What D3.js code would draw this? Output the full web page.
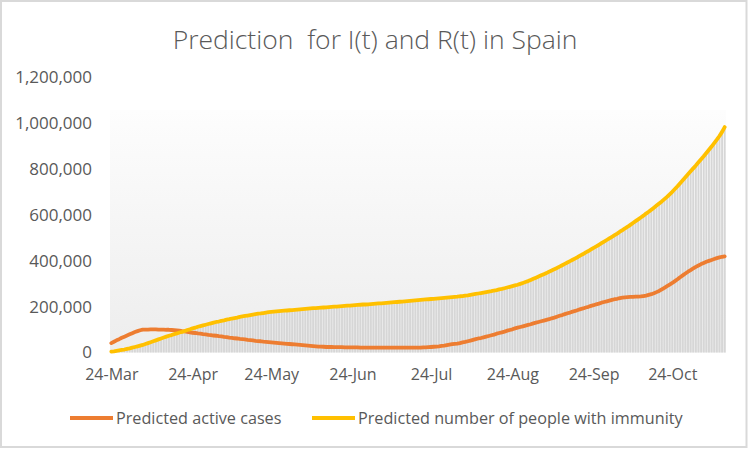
<!DOCTYPE html>
<html>
<head>
<meta charset="utf-8">
<script src="https://cdn.jsdelivr.net/npm/d3@7"></script>
<style>
  html, body { margin: 0; padding: 0; background: #ffffff; }
  svg { display: block; }
</style>
</head>
<body>
<svg id="chart" width="750" height="449"></svg>
<script>
// ---------------- DATA ----------------
const chartTitle = "Prediction  for I(t) and R(t) in Spain";
const seriesNames = ["Predicted active cases", "Predicted number of people with immunity"];
const firstDay = "2020-03-24";
const lastDay = "2020-11-13";
const xTickDates = ["2020-03-24","2020-04-24","2020-05-24","2020-06-24","2020-07-24","2020-08-24","2020-09-24","2020-10-24"];
const xTickLabels = ["24-Mar","24-Apr","24-May","24-Jun","24-Jul","24-Aug","24-Sep","24-Oct"];
const yTickValues = [0, 200, 400, 600, 800, 1000, 1200]; // thousands
const yTickLabels = ["0","200,000","400,000","600,000","800,000","1,000,000","1,200,000"];

// Predicted active cases I(t), thousands, one value per day
const activeK = [
  41,47,53,58,64,69,74,79,84,89,93,97,100,
  100,100,101,101,101,100,100,100,99,99,98,97,
  96,95,93,92,90,88,86,
  85,83,82,80,79,77,76,74,73,71,70,68,67,65,64,62,61,59,58,57,55,54,53,51,50,49,47,46,45,44,
  43,42,41,40,39,38,37,36,35,34,33,32,31,30,29,28,27,26,26,25,24,
  24,24,23,23,23,23,22,22,22,22,
  22,22,21,21,21,21,21,21,21,21,21,21,21,21,21,21,21,21,21,21,21,21,21,21,21,21,
  22,22,23,24,25,
  26,27,29,30,32,34,36,38,39,41,
  44,46,49,52,55,58,61,63,66,69,72,
  75,78,82,85,88,91,95,98,101,105,108,
  111,114,117,120,123,127,130,133,136,139,142,145,
  149,152,156,160,163,167,171,174,178,181,185,
  189,192,196,199,203,206,210,213,217,220,
  223,226,229,232,234,237,239,
  240,241,242,242,243,243,244,
  246,248,251,254,258,263,268,275,282,289,296,303,
  311,319,328,336,344,352,359,
  366,373,379,385,390,395,
  399,403,407,411,414,417,419
];

// Predicted number of people with immunity R(t), thousands, one value per day
const immuneK = [
  4,5,7,9,11,13,16,18,21,24,27,30,33,
  37,41,45,49,53,57,61,65,69,
  73,76,80,83,87,90,94,
  98,101,105,108,112,115,118,121,124,127,130,133,135,138,140,143,145,148,150,152,155,
  157,159,161,163,165,167,169,170,172,174,176,
  177,178,179,180,181,182,183,184,185,186,187,188,
  189,190,191,192,193,193,194,195,196,197,
  198,199,200,200,201,202,203,204,204,205,206,207,
  208,209,209,210,211,212,213,214,214,215,216,217,218,219,220,221,
  222,223,224,225,226,227,228,229,230,231,232,233,234,235,236,237,238,239,240,
  241,242,243,245,246,248,249,251,253,255,257,259,261,263,265,
  267,270,272,275,277,280,283,286,289,292,295,299,303,307,311,316,
  321,326,331,336,341,346,352,357,363,368,374,380,386,392,398,404,410,416,423,429,436,442,449,456,462,469,
  476,483,490,497,504,511,518,526,533,541,548,556,564,
  572,580,588,596,605,613,622,631,640,649,658,668,678,
  689,700,712,724,737,750,763,
  776,789,802,815,829,842,855,869,
  883,897,912,927,943,961,982
];

// ---------------- CHART ----------------
const colors = { active: "#ED7D31", immune: "#FFC000", text: "#595959", cols: "#d6d6d6", border: "#d9d9d9" };
const font = "'Open Sans', 'Noto Sans', 'DejaVu Sans', sans-serif";

const parse = d3.utcParse("%Y-%m-%d");
const days = d3.utcDay.range(parse(firstDay), d3.utcDay.offset(parse(lastDay), 1));
const data = days.map((d, i) => ({ date: d, active: activeK[i], immune: immuneK[i] }));

const plot = { left: 110, right: 726, top: 77, bottom: 352.5 };
const x = d3.scaleUtc()
  .domain([d3.utcHour.offset(days[0], -12), d3.utcHour.offset(days[days.length - 1], 12)])
  .range([plot.left, plot.right]);
const y = d3.scaleLinear().domain([0, 1200]).range([plot.bottom, plot.top]);
const band = (plot.right - plot.left) / days.length;

const svg = d3.select("#chart");

// outer border
svg.append("rect").attr("x", 1).attr("y", 1).attr("width", 745.5).attr("height", 446)
  .attr("fill", "#ffffff").attr("stroke", colors.border).attr("stroke-width", 2);

// gradient background of the plot region
const defs = svg.append("defs");
const grad = defs.append("linearGradient").attr("id", "bg").attr("x1", 0).attr("y1", 0).attr("x2", 0).attr("y2", 1);
grad.append("stop").attr("offset", "0%").attr("stop-color", "#fdfdfd");
grad.append("stop").attr("offset", "100%").attr("stop-color", "#ededed");
svg.append("rect")
  .attr("x", plot.left).attr("y", 110)
  .attr("width", plot.right - plot.left).attr("height", plot.bottom - 110)
  .attr("fill", "url(#bg)");

// title
svg.append("text")
  .attr("x", 375).attr("y", 49)
  .attr("text-anchor", "middle")
  .attr("font-family", font).attr("font-weight", 300)
  .attr("font-size", 26.5).attr("fill", colors.text)
  .style("white-space", "pre")
  .text(chartTitle);

// columns under the immunity curve
svg.append("g").selectAll("rect").data(data).join("rect")
  .attr("x", d => x(d.date) - band * 0.36)
  .attr("width", band * 0.72)
  .attr("y", d => y(d.immune))
  .attr("height", d => y(0) - y(d.immune))
  .attr("fill", colors.cols);

// y axis
const yAxis = d3.axisLeft(y).tickValues(yTickValues).tickSize(0).tickPadding(0)
  .tickFormat((d, i) => yTickLabels[i]);
const gy = svg.append("g").attr("transform", "translate(92,0)").call(yAxis);
gy.select(".domain").remove();
gy.selectAll("text").attr("font-family", font).attr("font-size", 17).attr("fill", colors.text);

// x axis
const xAxis = d3.axisBottom(x).tickValues(xTickDates.map(parse)).tickSize(0).tickPadding(0)
  .tickFormat((d, i) => xTickLabels[i]);
const gx = svg.append("g").attr("transform", `translate(0,${plot.bottom + 16})`).call(xAxis);
gx.select(".domain").remove();
gx.selectAll("text").attr("font-family", font).attr("font-size", 16).attr("fill", colors.text);

// lines
const lineActive = d3.line().x(d => x(d.date)).y(d => y(d.active));
const lineImmune = d3.line().x(d => x(d.date)).y(d => y(d.immune));
svg.append("path").datum(data).attr("d", lineActive)
  .attr("fill", "none").attr("stroke", colors.active).attr("stroke-width", 3.8)
  .attr("stroke-linejoin", "round").attr("stroke-linecap", "round");
svg.append("path").datum(data).attr("d", lineImmune)
  .attr("fill", "none").attr("stroke", colors.immune).attr("stroke-width", 3.8)
  .attr("stroke-linejoin", "round").attr("stroke-linecap", "round");

// legend
const legendItems = [
  { name: seriesNames[0], color: colors.active, x: 70 },
  { name: seriesNames[1], color: colors.immune, x: 312 }
];
const lg = svg.append("g");
legendItems.forEach(it => {
  lg.append("line").attr("x1", it.x).attr("x2", it.x + 43).attr("y1", 418).attr("y2", 418)
    .attr("stroke", it.color).attr("stroke-width", 3.8);
  lg.append("text").attr("x", it.x + 46).attr("y", 418).attr("dy", "0.35em")
    .attr("font-family", font).attr("font-size", 16.2).attr("fill", colors.text)
    .text(it.name);
});
</script>
</body>
</html>
